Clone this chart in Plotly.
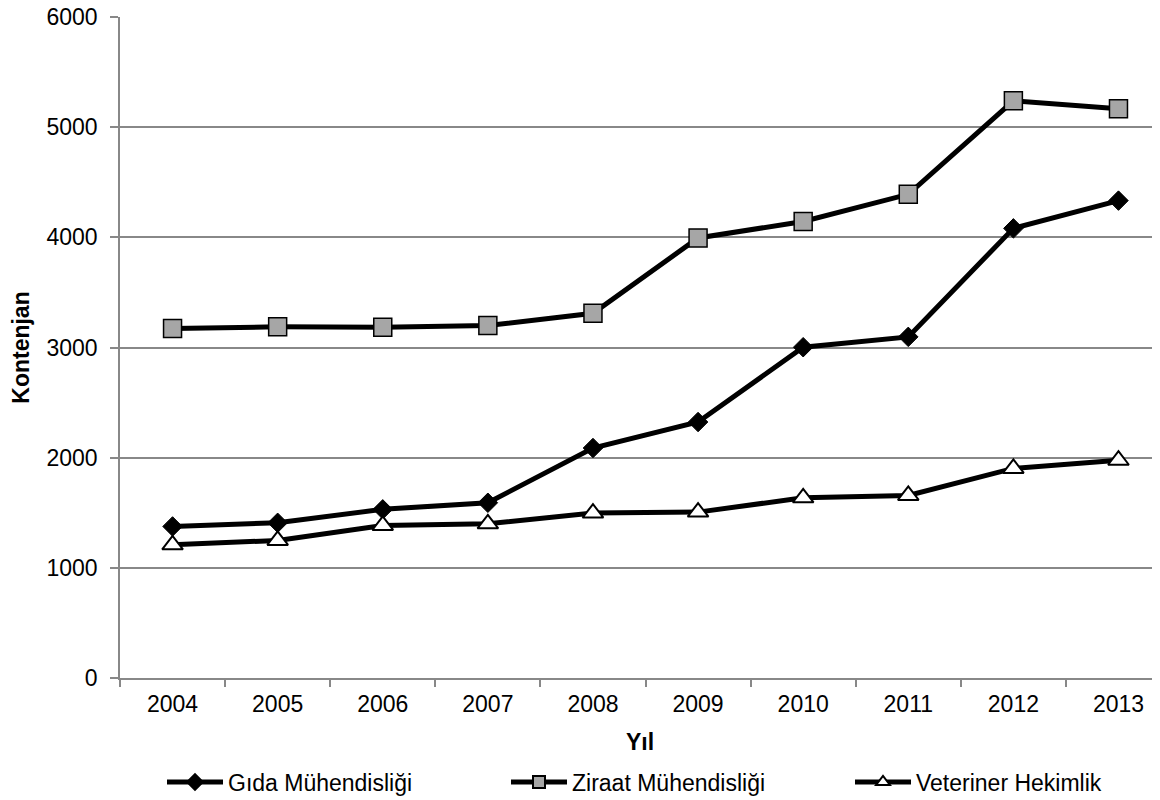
import plotly.graph_objects as go

years = ["2004", "2005", "2006", "2007", "2008", "2009", "2010", "2011", "2012", "2013"]
gida = [1376, 1409, 1531, 1591, 2088, 2324, 3003, 3097, 4082, 4334]
ziraat = [3173, 3188, 3185, 3200, 3311, 3995, 4145, 4391, 5240, 5167]
veteriner = [1209, 1249, 1385, 1400, 1497, 1506, 1636, 1657, 1903, 1977]

series_names = ["Gıda Mühendisliği", "Ziraat Mühendisliği", "Veteriner Hekimlik"]
y_ticks = [0, 1000, 2000, 3000, 4000, 5000, 6000]

FONT = "Arial, Liberation Sans, sans-serif"
GRID = "#888888"
FS = 23

fig = go.Figure()
fig.add_trace(go.Scatter(
    x=years, y=gida, name=series_names[0], mode="lines+markers",
    line=dict(color="black", width=5),
    marker=dict(symbol="diamond", size=15, color="black", line=dict(color="black", width=1)),
))
fig.add_trace(go.Scatter(
    x=years, y=ziraat, name=series_names[1], mode="lines+markers",
    line=dict(color="black", width=5),
    marker=dict(symbol="square", size=18, color="#a6a6a6", line=dict(color="black", width=1.5)),
))
fig.add_trace(go.Scatter(
    x=years, y=veteriner, name=series_names[2], mode="lines+markers",
    line=dict(color="black", width=5),
    marker=dict(symbol="triangle-up", size=18, color="white", line=dict(color="black", width=2)),
))

fig.update_layout(
    width=1152, height=792,
    margin=dict(l=112, r=0, t=9, b=122),
    paper_bgcolor="white", plot_bgcolor="white",
    font=dict(family=FONT, size=FS, color="black"),
    showlegend=True,
    legend=dict(
        orientation="h",
        xref="container", x=154 / 1152, xanchor="left",
        yref="container", y=18 / 792, yanchor="middle",
        entrywidth=273, entrywidthmode="pixels", itemwidth=56,
        itemsizing="constant",
        font=dict(family=FONT, size=FS, color="black"),
        bgcolor="rgba(0,0,0,0)",
    ),
    xaxis=dict(
        type="category", range=[-0.5, 9.395],
        tickson="boundaries", ticks="outside", ticklen=7, tickcolor=GRID, tickwidth=1.5,
        ticklabelstandoff=5,
        showline=True, linecolor=GRID, linewidth=1.5,
        showgrid=False, zeroline=False,
        tickfont=dict(family=FONT, size=FS),
        title=dict(text="<b>Yıl</b>", font=dict(family=FONT, size=FS), standoff=18),
        automargin=False,
    ),
    yaxis=dict(
        range=[0, 6001], tickvals=y_ticks,
        ticks="outside", ticklen=8, tickcolor=GRID, tickwidth=1.5,
        ticklabelstandoff=8, ticklabeloverflow="allow",
        showline=True, linecolor=GRID, linewidth=1.5,
        showgrid=True, gridcolor=GRID, gridwidth=1.5,
        zeroline=False,
        tickfont=dict(family=FONT, size=FS),
        title=dict(text="<b>Kontenjan</b>", font=dict(family=FONT, size=FS), standoff=10),
        automargin=False,
    ),
)

fig.write_html("out.html")
